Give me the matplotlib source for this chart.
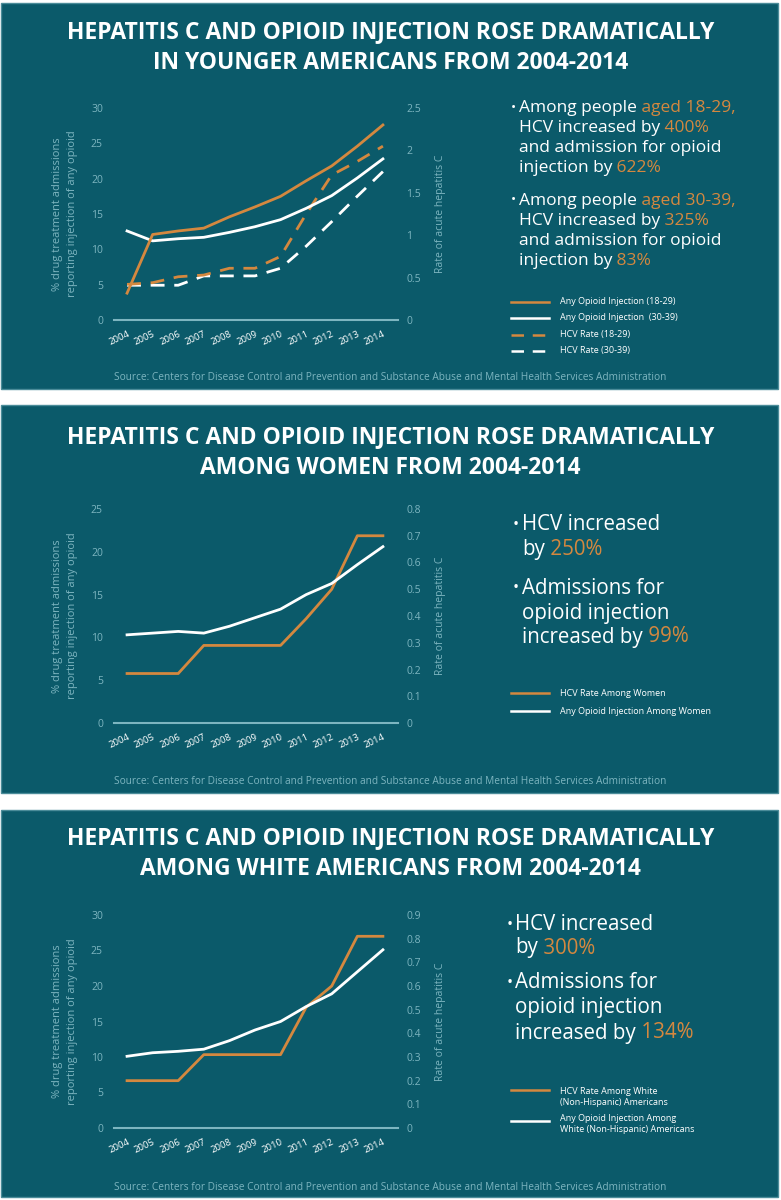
import matplotlib
matplotlib.use('Agg')
import matplotlib.pyplot as plt
from matplotlib.patches import Rectangle
from matplotlib.lines import Line2D

W, H = 781, 1200
BG = '#0b5a6a'
EDGE = '#4b8c99'
ORANGE = '#d4883f'
WHITE = '#ffffff'
AXC = '#7db5c0'
FONT = 'Open Sans'

years = list(range(2004, 2015))
year_labels = [str(y) for y in years]

# panel 1 - younger americans
opioid_18_29 = [3.8, 12.1, 12.6, 13.0, 14.6, 16.0, 17.5, 19.7, 21.8, 24.6, 27.6]
opioid_30_39 = [12.6, 11.2, 11.5, 11.7, 12.4, 13.2, 14.2, 15.8, 17.6, 20.1, 22.8]
hcv_18_29 = [0.42, 0.44, 0.51, 0.53, 0.61, 0.61, 0.75, 1.25, 1.71, 1.87, 2.05]
hcv_30_39 = [0.41, 0.41, 0.41, 0.52, 0.52, 0.52, 0.61, 0.87, 1.16, 1.46, 1.75]

# panel 2 - women
opioid_women = [10.3, 10.5, 10.7, 10.5, 11.3, 12.3, 13.3, 15.0, 16.3, 18.5, 20.6]
hcv_women = [0.185, 0.185, 0.185, 0.29, 0.29, 0.29, 0.29, 0.39, 0.50, 0.70, 0.70]

# panel 3 - white americans
opioid_white = [10.1, 10.6, 10.8, 11.1, 12.3, 13.8, 15.0, 17.1, 18.9, 22.0, 25.1]
hcv_white = [0.20, 0.20, 0.20, 0.31, 0.31, 0.31, 0.31, 0.51, 0.60, 0.81, 0.81]

title_line1 = 'HEPATITIS C AND OPIOID INJECTION ROSE DRAMATICALLY'
title_line2 = ['IN YOUNGER AMERICANS FROM 2004-2014',
               'AMONG WOMEN FROM 2004-2014',
               'AMONG WHITE AMERICANS FROM 2004-2014']
source = ('Source: Centers for Disease Control and Prevention and Substance Abuse '
          'and Mental Health Services Administration')
left_label = '% drug treatment admissions\nreporting injection of any opioid'
right_label = 'Rate of acute hepatitis C'

TITLE_SIZE = 16.5
DASH = (5, 3.5)

fig = plt.figure(figsize=(W / 100, H / 100), dpi=100, facecolor='white')
renderer = fig.canvas.get_renderer()


def fx(x):
    return x / W


def fy(y):
    return 1 - y / H


def rich_line(x, y, parts, size):
    # draw pieces of text one after another, each in its own colour
    for s, c in parts:
        t = fig.text(fx(x), fy(y), s, color=c, fontsize=size, family=FONT,
                     ha='left', va='center')
        x += t.get_window_extent(renderer=renderer).width


def bullets(x_dot, x_txt, rows, size):
    for y, parts, dot in rows:
        if dot:
            fig.text(fx(x_dot), fy(y), '•', color=WHITE, fontsize=size * 0.8,
                     family=FONT, ha='left', va='center')
        rich_line(x_txt, y, parts, size)


def legend_row(y, color, ls, text, ty=None):
    fig.add_artist(Line2D([fx(511), fx(549)], [fy(y), fy(y)], color=color, lw=1.8,
                          ls=ls, dashes=DASH if ls == '--' else (None, None),
                          transform=fig.transFigure))
    fig.text(fx(560), fy(ty if ty is not None else y), text, color=WHITE, fontsize=6.5,
             family=FONT, ha='left', va='center', linespacing=1.25)


def panel(top, bottom, t1, t2, title2, src):
    fig.add_artist(Rectangle((fx(1), fy(bottom)), fx(777), (bottom - top) / H,
                             facecolor=BG, edgecolor=EDGE, lw=1,
                             transform=fig.transFigure, zorder=-10))
    fig.text(0.5, fy(t1), title_line1, color=WHITE, fontsize=TITLE_SIZE, family=FONT,
             fontweight='bold', ha='center', va='center')
    fig.text(0.5, fy(t2), title2, color=WHITE, fontsize=TITLE_SIZE, family=FONT,
             fontweight='bold', ha='center', va='center')
    fig.text(0.5, fy(src), source, color=AXC, fontsize=7.3, family=FONT,
             ha='center', va='center')


def chart(y0, ytop, lmax, lstep, rmax, rstep):
    ax = fig.add_axes([fx(114), fy(y0), fx(398 - 114), (y0 - ytop) / H])
    ax.patch.set_visible(False)
    ax.set_xlim(2003.49, 2014.59)
    ax.set_ylim(0, lmax)
    ax.set_yticks(range(0, lmax + 1, lstep))
    ax.set_xticks(years)
    ax.set_xticklabels(year_labels, rotation=25, ha='right', va='top',
                       rotation_mode='anchor')
    for s in ['top', 'left', 'right']:
        ax.spines[s].set_visible(False)
    ax.spines['bottom'].set_color(AXC)
    ax.spines['bottom'].set_linewidth(1.5)
    ax.tick_params(axis='x', length=0, pad=7, labelsize=6.8, labelcolor=WHITE)
    ax.tick_params(axis='y', length=0, pad=8, labelsize=7.5, labelcolor=AXC)
    ax2 = ax.twinx()
    ax2.set_ylim(0, rmax)
    nr = int(round(rmax / rstep))
    rt = [round(i * rstep, 2) for i in range(nr + 1)]
    ax2.set_yticks(rt)
    ax2.set_yticklabels(['%g' % v for v in rt])
    for s in ax2.spines.values():
        s.set_visible(False)
    ax2.tick_params(axis='y', length=0, pad=6, labelsize=7.5, labelcolor=AXC)
    for a in (ax, ax2):
        for lab in a.get_xticklabels() + a.get_yticklabels():
            lab.set_family(FONT)
    fig.text(fx(65), fy((y0 + ytop) / 2), left_label, rotation=90, color=AXC,
             fontsize=8, family=FONT, ha='center', va='center', linespacing=1.45,
             multialignment='center')
    fig.text(fx(440), fy((y0 + ytop) / 2), right_label, rotation=90, color=AXC,
             fontsize=7.5, family=FONT, ha='center', va='center')
    return ax, ax2


# ---------- panel 1 ----------
panel(3, 389, 32, 63, title_line2[0], 378)
ax, ax2 = chart(320, 108, 30, 5, 2.5, 0.5)
ax2.plot(years, hcv_30_39, color=WHITE, lw=2, dashes=DASH)
ax2.plot(years, hcv_18_29, color=ORANGE, lw=2, dashes=DASH)
ax2.plot(years, opioid_30_39, color=WHITE, lw=2, transform=ax.transData)
ax2.plot(years, opioid_18_29, color=ORANGE, lw=2, transform=ax.transData)

bullets(511, 519, [
    (108, [('Among people', WHITE), (' aged 18-29,', ORANGE)], True),
    (128, [('HCV increased by', WHITE), (' 400%', ORANGE)], False),
    (148, [('and admission for opioid', WHITE)], False),
    (168, [('injection by', WHITE), (' 622%', ORANGE)], False),
    (201, [('Among people', WHITE), (' aged 30-39,', ORANGE)], True),
    (221, [('HCV increased by', WHITE), (' 325%', ORANGE)], False),
    (241, [('and admission for opioid', WHITE)], False),
    (261, [('injection by', WHITE), (' 83%', ORANGE)], False),
], 12.5)
legend_row(302, ORANGE, '-', 'Any Opioid Injection (18-29)')
legend_row(318, WHITE, '-', 'Any Opioid Injection  (30-39)')
legend_row(335, ORANGE, '--', 'HCV Rate (18-29)')
legend_row(351, WHITE, '--', 'HCV Rate (30-39)')

# ---------- panel 2 ----------
panel(405, 793, 437, 468, title_line2[1], 781)
ax, ax2 = chart(723, 509, 25, 5, 0.8, 0.1)
ax2.plot(years, hcv_women, color=ORANGE, lw=2)
ax2.plot(years, opioid_women, color=WHITE, lw=2, transform=ax.transData)

bullets(513, 522, [
    (525, [('HCV increased', WHITE)], True),
    (550, [('by', WHITE), (' 250%', ORANGE)], False),
    (588, [('Admissions for', WHITE)], True),
    (613, [('opioid injection', WHITE)], False),
    (637, [('increased by', WHITE), (' 99%', ORANGE)], False),
], 14.8)
legend_row(693, ORANGE, '-', 'HCV Rate Among Women')
legend_row(711, WHITE, '-', 'Any Opioid Injection Among Women')

# ---------- panel 3 ----------
panel(810, 1197, 838, 869, title_line2[2], 1187)
ax, ax2 = chart(1128, 915, 30, 5, 0.9, 0.1)
ax2.plot(years, hcv_white, color=ORANGE, lw=2)
ax2.plot(years, opioid_white, color=WHITE, lw=2, transform=ax.transData)

bullets(507, 515, [
    (925, [('HCV increased', WHITE)], True),
    (948, [('by', WHITE), (' 300%', ORANGE)], False),
    (983, [('Admissions for', WHITE)], True),
    (1008, [('opioid injection', WHITE)], False),
    (1033, [('increased by', WHITE), (' 134%', ORANGE)], False),
], 14.8)
legend_row(1090, ORANGE, '-', 'HCV Rate Among White\n(Non-Hispanic) Americans', ty=1097)
legend_row(1121, WHITE, '-', 'Any Opioid Injection Among\nWhite (Non-Hispanic) Americans', ty=1124)

fig.savefig('out.png', dpi=100, facecolor='white')
